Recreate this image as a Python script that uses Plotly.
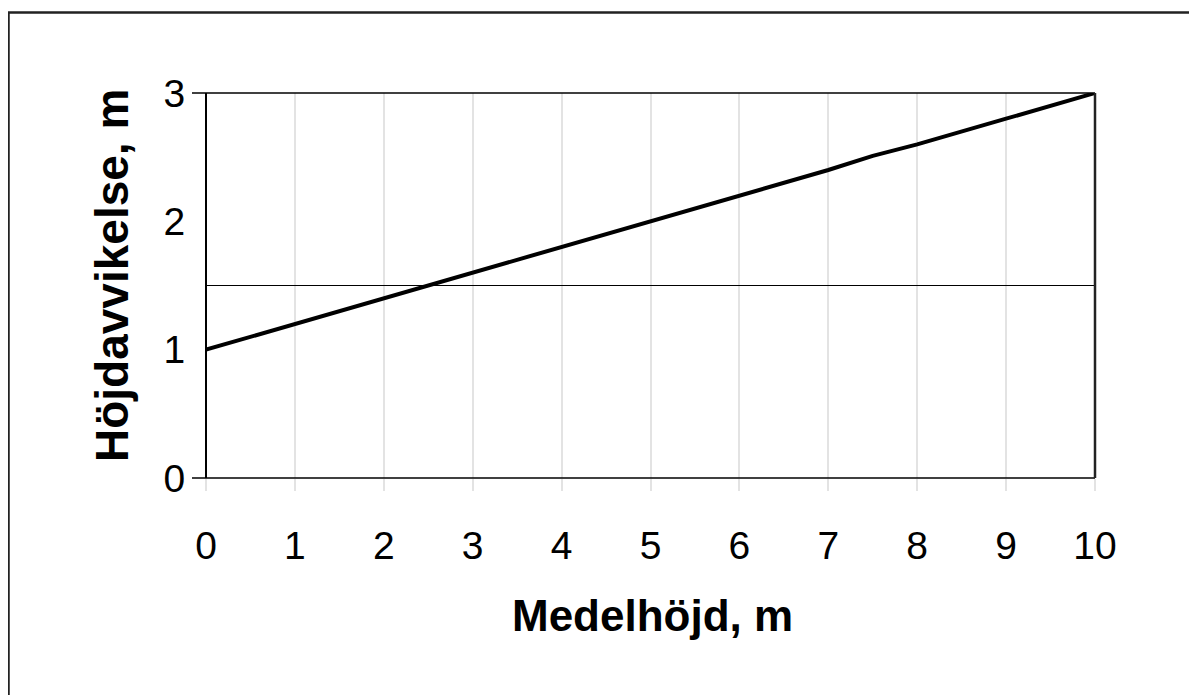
import plotly.graph_objects as go

# Data
medelhojd = [0, 1, 2, 3, 4, 5, 6, 7, 7.5, 8, 9, 10]
hojdavvikelse = [1.0, 1.2, 1.4, 1.6, 1.8, 2.0, 2.2, 2.4, 2.51, 2.6, 2.8, 3.0]
ref_x = [0, 10]
ref_y = [1.5, 1.5]
x_ticks = [0, 1, 2, 3, 4, 5, 6, 7, 8, 9, 10]
y_ticks = [0, 1, 2, 3]
x_title = "Medelhöjd, m"
y_title = "Höjdavvikelse, m"

OFF = 8  # page body margin
W, H = 1197 - OFF, 695 - OFF
L, T = 206 - OFF, 93 - OFF
pw, ph = 889, 385
R, B = W - L - pw, H - T - ph

def px_x(p):
    return (p - OFF - L) / pw

def px_y(p):
    return (T + ph - (p - OFF)) / ph

fig = go.Figure()
fig.add_trace(go.Scatter(x=ref_x, y=ref_y, mode="lines",
                         line=dict(color="black", width=1.2), showlegend=False))
fig.add_trace(go.Scatter(x=medelhojd, y=hojdavvikelse, mode="lines",
                         line=dict(color="black", width=4), showlegend=False))

font = "Liberation Sans, Arial, sans-serif"
fig.update_layout(
    width=W, height=H,
    margin=dict(l=L, r=R, t=T, b=B),
    paper_bgcolor="white", plot_bgcolor="white",
    font=dict(family=font, color="black"),
    xaxis=dict(range=[0, 10], tickvals=x_ticks, showgrid=True, gridcolor="#e3e3e3",
               gridwidth=1.5, zeroline=False, showline=False,
               ticks="outside", ticklen=12, tickcolor="#e3e3e3", tickwidth=1.5,
               ticklabelstandoff=21, tickfont=dict(size=39, family=font)),
    yaxis=dict(range=[0, 3], tickvals=y_ticks, showgrid=False, zeroline=False,
               showline=False, ticks="outside", ticklen=12,
               tickcolor="rgba(0,0,0,0)", tickfont=dict(size=39, family=font)),
)

shapes = []
shapes.append(dict(type="line", xref="paper", yref="paper", x0=px_x(192), x1=1, y0=1, y1=1,
                   line=dict(color="black", width=1.5)))
shapes.append(dict(type="line", xref="paper", yref="paper", x0=px_x(192), x1=1, y0=0, y1=0,
                   line=dict(color="black", width=1.5)))
shapes.append(dict(type="line", xref="paper", yref="paper", x0=0, x1=0, y0=0, y1=1,
                   line=dict(color="black", width=2)))
shapes.append(dict(type="line", xref="paper", yref="paper", x0=1, x1=1, y0=0, y1=1,
                   line=dict(color="#222", width=2.5)))
shapes.append(dict(type="rect", xref="paper", yref="paper",
                   x0=px_x(8.5), x1=px_x(1210), y0=px_y(710), y1=px_y(12.5),
                   line=dict(color="#222", width=2.5)))
fig.update_layout(shapes=shapes)

fig.add_annotation(text="<b>" + x_title + "</b>", xref="paper", yref="paper",
                   x=px_x(652), y=px_y(615), showarrow=False,
                   font=dict(size=44, family=font), xanchor="center", yanchor="middle")
fig.add_annotation(text="<b>" + y_title + "</b>", xref="paper", yref="paper",
                   x=px_x(112), y=px_y(276), showarrow=False, textangle=-90,
                   font=dict(size=46, family=font), xanchor="center", yanchor="middle")

fig.write_html("out.html")
